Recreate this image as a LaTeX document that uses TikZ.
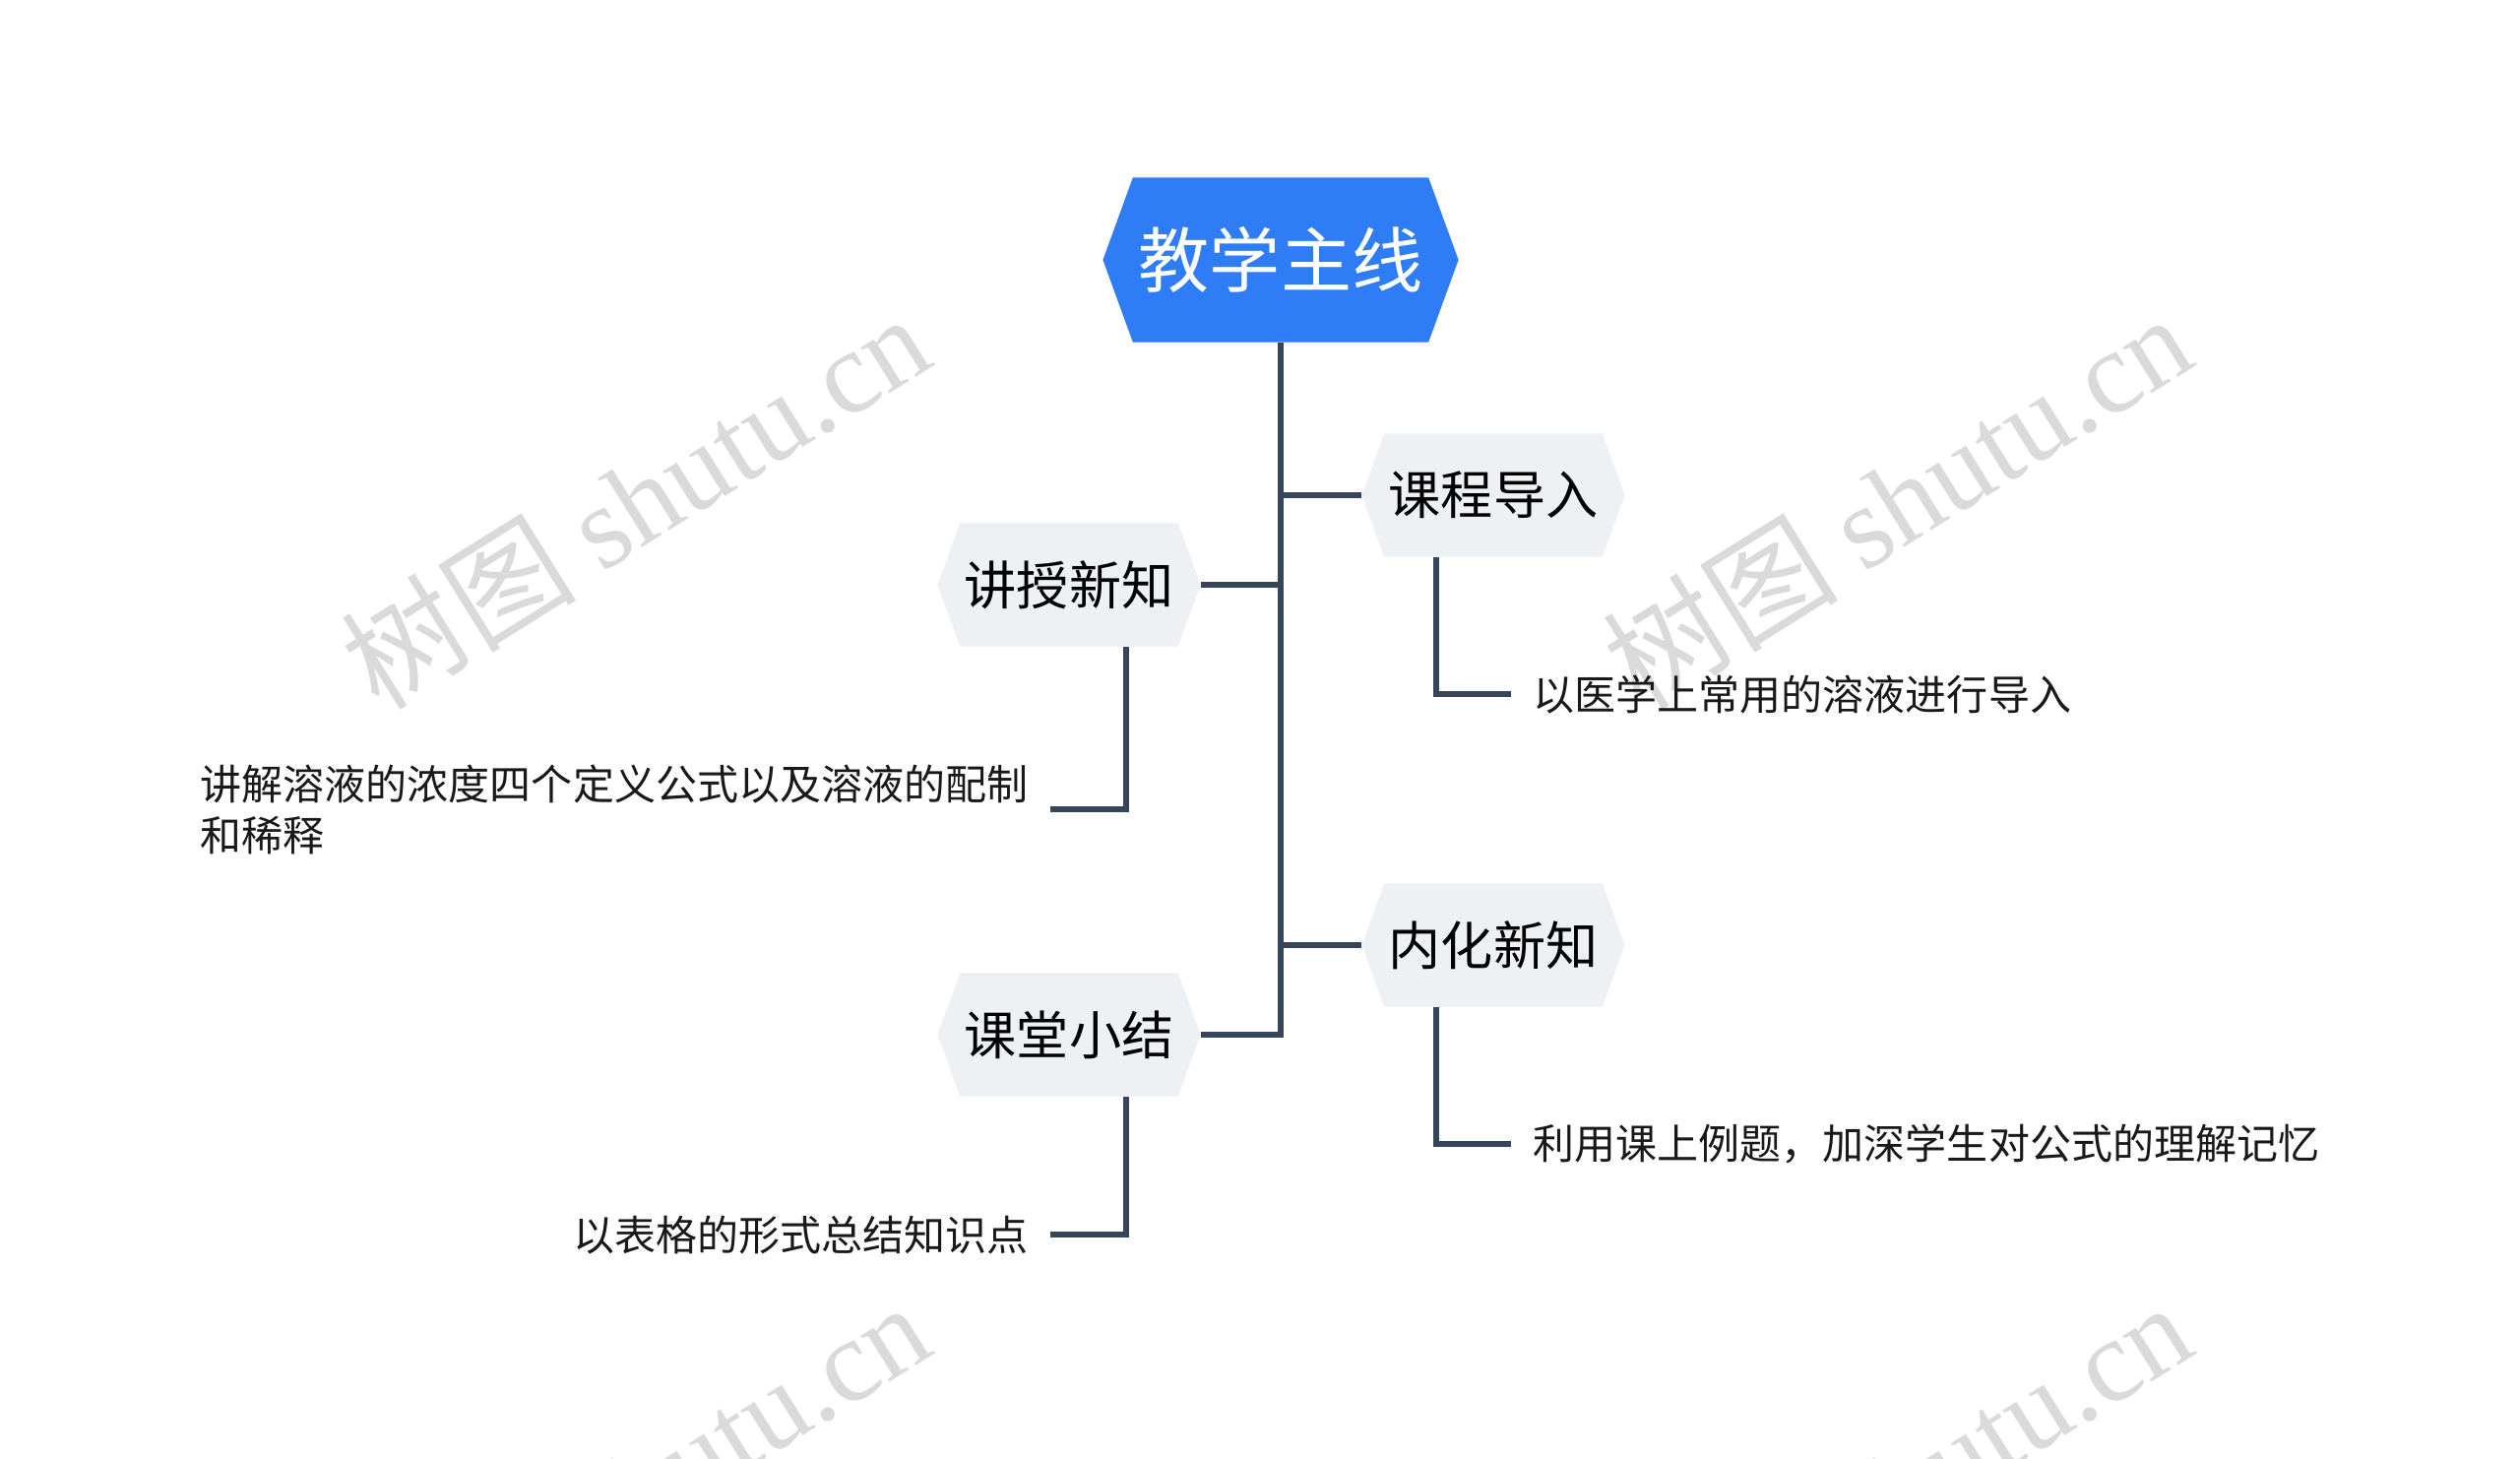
\documentclass[tikz,border=0pt]{standalone}
\usepackage{fontspec}
\setmainfont{Noto Sans CJK SC}
\newfontfamily\wmserif{Liberation Serif}
\usepackage{xcolor}
\usepackage{tikz}
\usetikzlibrary{positioning, shapes.symbols}
\definecolor{rootblue}{HTML}{2F7DF6}
\definecolor{subgray}{HTML}{EDF1F4}
\definecolor{linkgray}{HTML}{364559}
\definecolor{wmgray}{HTML}{DADADA}
\tikzset{
  root/.style  = {signal, signal to=west and east, signal pointer angle=140,
                  fill=rootblue, text=white, minimum height=1.67cm,
                  minimum width=3.61cm, inner sep=0pt,
                  font=\fontsize{20.5}{24}\selectfont},
  sub/.style   = {signal, signal to=west and east, signal pointer angle=140,
                  fill=subgray, text=black, minimum height=1.25cm,
                  minimum width=2.67cm, inner sep=0pt,
                  font=\fontsize{15.1}{18}\selectfont},
  leaf/.style  = {inner sep=0.22cm, align=left, text=black!90,
                  font=\fontsize{11.95}{14.8}\selectfont},
  link/.style  = {draw=linkgray, line width=1.7pt},
  wmark/.style = {text=wmgray, rotate=32, font=\fontsize{34}{38}\selectfont},
}

\begin{document}
\begin{tikzpicture}[x=0.01cm, y=-0.01cm]
  \useasboundingbox (0,0) rectangle (2560,1482);
  \clip (0,0) rectangle (2560,1482);

  % watermarks
  \foreach \wx/\wy [count=\i] in {645/508, 1927/508, 645/1512, 1927/1512}
    \node[wmark] (wm\i) at (\wx,\wy) {树图 {\wmserif shutu.cn}};

  \node[root] (main) at (1301,264) {教学主线};

  \node[sub] (intro) at (1517,503)  {课程导入};
  \node[sub] (teach) at (1086,594)  {讲授新知};
  \node[sub] (apply) at (1517,960)  {内化新知};
  \node[sub] (recap) at (1086,1051) {课堂小结};

  \node[leaf, anchor=west] (introtxt) at ([shift={(0.18cm,-2.02cm)}]intro.center)
    {以医学上常用的溶液进行导入};
  \node[leaf, anchor=east] (teachtxt) at ([shift={(-0.19cm,-2.28cm)}]teach.center)
    {讲解溶液的浓度四个定义公式以及溶液的配制\\和稀释};
  \node[leaf, anchor=west] (applytxt) at ([shift={(0.18cm,-2.02cm)}]apply.center)
    {利用课上例题，加深学生对公式的理解记忆};
  \node[leaf, anchor=east] (recaptxt) at ([shift={(-0.19cm,-2.03cm)}]recap.center)
    {以表格的形式总结知识点};

  \draw[link] (main.south) |- (recap.east);
  \draw[link] (main.south |- intro.west) -- (intro.west);
  \draw[link] (main.south |- teach.east) -- (teach.east);
  \draw[link] (main.south |- apply.west) -- (apply.west);

  \draw[link] ([xshift=-0.58cm]intro.south) |- (introtxt.west);
  \draw[link] ([xshift=0.58cm]teach.south) |- (teachtxt.east);
  \draw[link] ([xshift=-0.58cm]apply.south) |- (applytxt.west);
  \draw[link] ([xshift=0.58cm]recap.south) |- (recaptxt.east);
\end{tikzpicture}
\end{document}
